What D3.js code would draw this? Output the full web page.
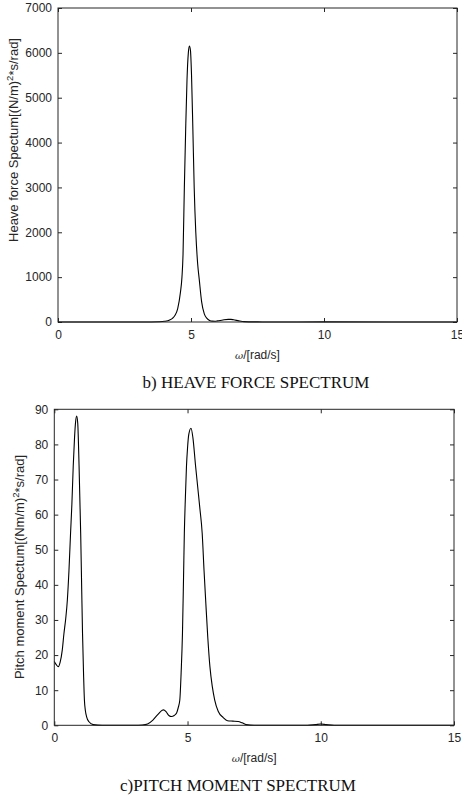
<!DOCTYPE html>
<html>
<head>
<meta charset="utf-8">
<script src="https://cdn.jsdelivr.net/npm/d3@7"></script>
<style>
  body { margin: 0; background: #fff; }
  svg { display: block; }
  .tick text { font-family: "Liberation Sans", Arial, sans-serif; font-size: 12px; fill: #262626; }
  .domain { display: none; }
  .tick line { stroke: #262626; }
</style>
</head>
<body>
<script>
// omega axis ticks
var xTicks = [0, 5, 10, 15];

// heave force spectrum (b)
var heaveW = [0, 1, 2, 3, 3.5, 3.8, 4.0, 4.2, 4.3, 4.4, 4.5, 4.6, 4.66, 4.7, 4.75, 4.8, 4.85, 4.9, 4.94, 4.98, 5.02, 5.07, 5.12, 5.18, 5.25, 5.31, 5.4, 5.5, 5.6, 5.7, 5.8, 5.9, 6.0, 6.2, 6.4, 6.5, 6.6, 6.8, 7.0, 7.5, 8, 10, 15];
var heaveS = [0, 0, 0, 0, 1, 5, 15, 45, 80, 150, 300, 650, 1000, 1500, 3000, 4300, 5400, 6000, 6150, 6050, 5500, 4300, 3000, 2000, 1300, 950, 450, 180, 80, 35, 20, 18, 25, 45, 58, 58, 50, 25, 8, 2, 0, 2, 0];
var heaveTicks = [0, 1000, 2000, 3000, 4000, 5000, 6000, 7000];

// pitch moment spectrum (c)
var pitchW = [0, 0.08, 0.15, 0.22, 0.3, 0.36, 0.43, 0.49, 0.55, 0.61, 0.66, 0.71, 0.76, 0.8, 0.84, 0.88, 0.93, 0.99, 1.03, 1.06, 1.1, 1.13, 1.17, 1.21, 1.3, 1.46, 1.8, 3.0, 3.3, 3.5, 3.7, 3.9, 4.05, 4.1, 4.2, 4.3, 4.4, 4.5, 4.59, 4.65, 4.71, 4.76, 4.81, 4.85, 4.88, 4.92, 4.96, 5.0, 5.05, 5.13, 5.2, 5.3, 5.38, 5.46, 5.55, 5.62, 5.68, 5.76, 5.84, 5.93, 6.02, 6.15, 6.34, 6.5, 6.7, 6.9, 7.05, 7.2, 7.5, 9.5, 9.8, 10, 10.2, 10.5, 15];
var pitchS = [18.2, 17.2, 16.7, 18, 21.5, 26, 30.5, 35.7, 44, 54.7, 63, 73.7, 82, 86.5, 88.1, 86, 73.7, 54.7, 38, 26, 14, 7.2, 4, 2.5, 1, 0.2, 0, 0, 0.1, 0.4, 1.5, 3.2, 4.3, 4.4, 3.8, 2.8, 2.5, 2.8, 3.5, 5, 7.2, 15, 26.2, 42, 54.7, 65, 73.7, 79, 83, 84.6, 82, 74, 68, 62, 54.7, 44, 35.7, 25, 16.7, 11, 7.2, 4, 2.2, 1.3, 1.2, 1.1, 0.7, 0.2, 0, 0, 0.2, 0.35, 0.2, 0, 0];
var pitchTicks = [0, 10, 20, 30, 40, 50, 60, 70, 80, 90];

var svg = d3.select("body").append("svg")
  .attr("width", 462)
  .attr("height", 805);

function drawPanel(opt) {
  var xScale = d3.scaleLinear().domain([0, 15]).range([opt.left, opt.right]);
  var yScale = d3.scaleLinear().domain([0, opt.ymax]).range([opt.bottom, opt.top]);
  var g = svg.append("g");

  g.append("g")
    .attr("transform", "translate(0," + opt.bottom + ")")
    .call(d3.axisBottom(xScale).tickValues(xTicks).tickSize(-4).tickPadding(8).tickFormat(d3.format("d")));
  g.append("g")
    .attr("transform", "translate(0," + opt.top + ")")
    .call(d3.axisTop(xScale).tickValues(xTicks).tickSize(-4).tickFormat(""));
  g.append("g")
    .attr("transform", "translate(" + opt.left + ",0)")
    .call(d3.axisLeft(yScale).tickValues(opt.yTicks).tickSize(-4).tickPadding(6).tickFormat(d3.format("d")));
  g.append("g")
    .attr("transform", "translate(" + opt.right + ",0)")
    .call(d3.axisRight(yScale).tickValues(opt.yTicks).tickSize(-4).tickFormat(""));

  var pts = opt.w.map(function(w, i) { return [w, opt.s[i]]; });
  var line = d3.line()
    .x(function(d) { return xScale(d[0]); })
    .y(function(d) { return yScale(d[1]); })
    .curve(d3.curveMonotoneX);
  g.append("path")
    .datum(pts)
    .attr("d", line)
    .attr("fill", "none")
    .attr("stroke", "#000")
    .attr("stroke-width", 1.1);

  g.append("rect")
    .attr("x", opt.left).attr("y", opt.top)
    .attr("width", opt.right - opt.left).attr("height", opt.bottom - opt.top)
    .attr("fill", "none")
    .attr("stroke", "#262626")
    .attr("stroke-width", 1);

  // x label
  var xl = g.append("text")
    .attr("x", (opt.left + opt.right) / 2)
    .attr("y", opt.bottom + 37)
    .attr("text-anchor", "middle")
    .attr("font-family", "Liberation Sans, Arial, sans-serif")
    .attr("font-size", "12px")
    .attr("fill", "#262626");
  xl.append("tspan").attr("font-style", "italic").attr("font-family", "DejaVu Serif, serif").attr("font-size", "10px").text("ω");
  xl.append("tspan").text("/[rad/s]");

  // y label
  var yl = g.append("text")
    .attr("transform", "translate(" + opt.ylx + "," + opt.yly + ") rotate(-90)")
    .attr("text-anchor", "middle")
    .attr("font-family", "Liberation Sans, Arial, sans-serif")
    .attr("font-size", "13px")
    .attr("fill", "#262626");
  yl.append("tspan").text(opt.ylabel[0]);
  yl.append("tspan").attr("dy", "-5").attr("font-size", "9.5px").text("2");
  yl.append("tspan").attr("dy", "5").text(opt.ylabel[1]);

  svg.append("text")
    .attr("x", opt.capX)
    .attr("y", opt.capY)
    .attr("text-anchor", "middle")
    .attr("font-family", "Liberation Serif, Times New Roman, serif")
    .attr("font-size", "17px")
    .attr("fill", "#111")
    .text(opt.caption);
}

drawPanel({
  left: 58, right: 457, top: 8, bottom: 322,
  ymax: 7000, yTicks: heaveTicks,
  w: heaveW, s: heaveS,
  ylabel: ["Heave force Spectum[(N/m)", "*s/rad]"],
  ylx: 18, yly: 140,
  caption: "b) HEAVE FORCE SPECTRUM", capX: 256, capY: 388
});

drawPanel({
  left: 54.3, right: 454, top: 409.3, bottom: 725.3,
  ymax: 90, yTicks: pitchTicks,
  w: pitchW, s: pitchS,
  ylabel: ["Pitch moment Spectum[(Nm/m)", "*s/rad]"],
  ylx: 24, yly: 567,
  caption: "c)PITCH MOMENT SPECTRUM", capX: 238, capY: 791
});
</script>
</body>
</html>
